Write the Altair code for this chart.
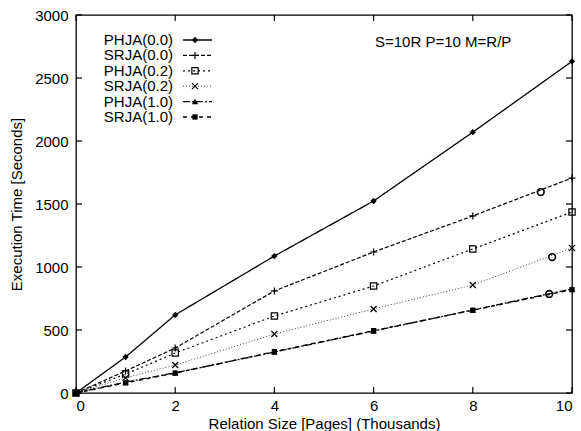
import altair as alt
import pandas as pd

# ---- data ----
sizes = [0, 1, 2, 4, 6, 8, 10]
phja_00 = [0, 286, 620, 1087, 1524, 2070, 2632]
srja_00 = [0, 175, 357, 810, 1119, 1405, 1706]
phja_02 = [0, 150, 317, 611, 849, 1143, 1437]
srja_02 = [0, 120, 222, 468, 667, 857, 1151]
phja_10 = [0, 87, 160, 325, 492, 659, 826]
srja_10 = [0, 80, 158, 328, 495, 657, 820]

series_names = ["PHJA(0.0)", "SRJA(0.0)", "PHJA(0.2)", "SRJA(0.2)", "PHJA(1.0)", "SRJA(1.0)"]
series_values = [phja_00, srja_00, phja_02, srja_02, phja_10, srja_10]

# stray open circles visible in the scan
circle_x = [9.37, 9.6, 9.54]
circle_y = [1595, 1079, 786]

x_ticks = [0, 2, 4, 6, 8, 10]
y_ticks = [0, 500, 1000, 1500, 2000, 2500, 3000]
annotation = "S=10R P=10 M=R/P"

# ---- styles ----
PLUS = "M-1,0L1,0M0,-1L0,1"
CROSS = "M-1,-1L1,1M-1,1L1,-1"
styles = [
    dict(dash=[1, 0], color="black", width=1.3, shape="diamond", filled=True, size=40),
    dict(dash=[4, 2], color="black", width=1.2, shape=PLUS, filled=False, size=49),
    dict(dash=[2, 3], color="black", width=1.2, shape="square", filled=False, size=40),
    dict(dash=[1, 2], color="#444444", width=1.0, shape=CROSS, filled=False, size=36),
    dict(dash=[7, 2, 2, 2], color="black", width=1.3, shape="triangle-up", filled=True, size=40),
    dict(dash=[4, 4], color="black", width=1.3, shape="square", filled=True, size=28),
]

W, H = 496, 378
FONT = "Liberation Sans"

xscale = alt.Scale(domain=[0, 10], nice=False, zero=False)
yscale = alt.Scale(domain=[0, 3000], nice=False, zero=False)

xaxis = alt.Axis(values=x_ticks, title="Relation Size [Pages] (Thousands)", format="d",
                 ticks=False, domain=False, grid=False, labelPadding=5,
                 labelFont=FONT, labelFontSize=15, labelColor="black",
                 titleFont=FONT, titleFontSize=15, titleFontWeight="normal",
                 titleColor="black", titleX=W / 2, titleY=30,
                 titleBaseline="middle")
yaxis = alt.Axis(values=y_ticks, title="Execution Time [Seconds]", format="d",
                 ticks=False, domain=False, grid=False, labelPadding=8,
                 labelFont=FONT, labelFontSize=15, labelColor="black",
                 titleFont=FONT, titleFontSize=15, titleFontWeight="normal",
                 titleColor="black", titleX=-60, titleY=H / 2,
                 titleAngle=-90, titleBaseline="middle")
XE = alt.X("size:Q", scale=xscale, axis=xaxis)
YE = alt.Y("time:Q", scale=yscale, axis=yaxis)

layers = []
for i, (name, vals) in enumerate(zip(series_names, series_values)):
    st = styles[i]
    df = pd.DataFrame({"size": sizes, "time": vals, "series": name})
    base = alt.Chart(df).encode(x=XE, y=YE)
    line = base.mark_line(color=st["color"], strokeWidth=st["width"], strokeDash=st["dash"])
    pts = base.mark_point(shape=st["shape"], filled=st["filled"], size=st["size"],
                          color="black", strokeWidth=1.2, opacity=1)
    layers += [line, pts]

# stray circles
circ_df = pd.DataFrame({"size": circle_x, "time": circle_y})
layers.append(alt.Chart(circ_df).mark_point(shape="circle", filled=False, size=45,
                                              color="black", strokeWidth=1.6, opacity=1)
              .encode(x=XE, y=YE))

# inward ticks on all four sides
xt = pd.DataFrame({"size": x_ticks})
yt = pd.DataFrame({"time": y_ticks})
TL = 6
layers.append(alt.Chart(xt).mark_rule(color="black", strokeWidth=1.2).encode(
    x=XE, y=alt.value(H), y2=alt.value(H - TL)))
layers.append(alt.Chart(xt).mark_rule(color="black", strokeWidth=1.2).encode(
    x=XE, y=alt.value(0), y2=alt.value(TL)))
layers.append(alt.Chart(yt).mark_rule(color="black", strokeWidth=1.2).encode(
    y=YE, x=alt.value(0), x2=alt.value(TL)))
layers.append(alt.Chart(yt).mark_rule(color="black", strokeWidth=1.2).encode(
    y=YE, x=alt.value(W), x2=alt.value(W - TL)))

# custom legend (label left of sample, gnuplot style)
LX_TEXT, LX0, LX1, LX_MK = 97, 107, 136, 119
LY0, LDY = 25, 15.4
for i, name in enumerate(series_names):
    st = styles[i]
    ldf = pd.DataFrame({"label": [name]})
    yy = LY0 + LDY * i
    layers.append(alt.Chart(ldf).mark_text(align="right", baseline="middle", font=FONT,
                                            fontSize=15, color="black")
                  .encode(text="label:N", x=alt.value(LX_TEXT), y=alt.value(yy)))
    layers.append(alt.Chart(ldf).mark_rule(color=st["color"], strokeWidth=st["width"],
                                            strokeDash=st["dash"])
                  .encode(x=alt.value(LX0), x2=alt.value(LX1), y=alt.value(yy)))
    layers.append(alt.Chart(ldf).mark_point(shape=st["shape"], filled=st["filled"],
                                             size=st["size"], color="black",
                                             strokeWidth=1.2, opacity=1)
                  .encode(x=alt.value(LX_MK), y=alt.value(yy)))

# annotation text
adf = pd.DataFrame({"label": [annotation]})
layers.append(alt.Chart(adf).mark_text(align="left", baseline="middle", font=FONT,
                                        fontSize=15, color="black")
              .encode(text="label:N", x=alt.value(299), y=alt.value(27)))

chart = alt.layer(*layers).properties(
    width=W, height=H,
    autosize=alt.AutoSizeParams(type="none"),
    padding={"left": 76, "top": 15, "right": 9, "bottom": 38},
    background="white",
).configure_view(stroke="black", strokeWidth=1.3)

chart.save("out.html", embed_options={"renderer": "svg", "actions": False})
